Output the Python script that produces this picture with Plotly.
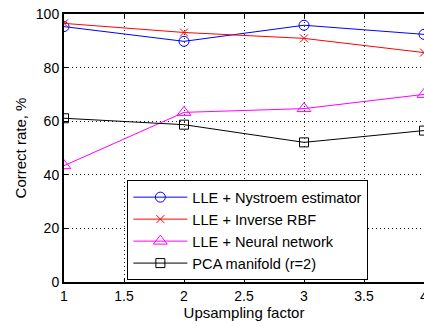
import plotly.graph_objects as go

x_vals = [1, 2, 3, 4]
nystroem = [95.3, 89.8, 95.8, 92.4]
inverse_rbf = [96.5, 93.1, 90.9, 85.6]
neural_net = [43.4, 63.3, 64.7, 70.0]
pca_manifold = [61.1, 58.7, 52.1, 56.5]

x_ticks = [1, 1.5, 2, 2.5, 3, 3.5, 4]
x_tick_labels = ["1", "1.5", "2", "2.5", "3", "3.5", "4"]
y_ticks = [0, 20, 40, 60, 80, 100]

names = ["LLE + Nystroem estimator", "LLE + Inverse RBF", "LLE + Neural network", "PCA manifold (r=2)"]
series = [nystroem, inverse_rbf, neural_net, pca_manifold]
colors = ["#0000ff", "#ff0000", "#ff00ff", "#000000"]
symbols = ["circle-open", "x-thin-open", "triangle-up-open", "square-open"]
sizes = [10, 8, 12, 9]

fig = go.Figure()
for n, s, c, sym, sz in zip(names, series, colors, symbols, sizes):
    fig.add_trace(go.Scatter(
        x=x_vals, y=s, name=n, mode="lines+markers",
        line=dict(color=c, width=1),
        marker=dict(symbol=sym, size=sz, color=c, line=dict(color=c, width=1)),
    ))

FONT = "Liberation Sans, Arial"
axis_common = dict(
    showline=True, linecolor="black", linewidth=2,
    ticks="inside", ticklen=4, tickcolor="black", tickwidth=1,
    showgrid=True, gridcolor="#222222", griddash="1px,3px", gridwidth=1,
    zeroline=False, ticklabeloverflow="allow",
    tickfont=dict(family=FONT, size=14, color="black"),
    title_font=dict(family=FONT, size=15, color="black"),
)

fig.update_xaxes(range=[1, 4], tickvals=x_ticks, ticktext=x_tick_labels,
                 title_text="Upsampling factor", title_standoff=3,
                 mirror="ticks", automargin=False, **axis_common)
fig.update_yaxes(range=[0, 100], tickvals=y_ticks,
                 title_text="Correct rate, %", title_standoff=6,
                 automargin=False, **axis_common)

fig.update_layout(
    width=424, height=326,
    margin=dict(l=64, r=0, t=14, b=44),
    paper_bgcolor="white", plot_bgcolor="white",
    showlegend=True,
    legend=dict(
        x=0.176, y=0.38, xanchor="left", yanchor="top",
        bgcolor="white", bordercolor="black", borderwidth=1,
        font=dict(family=FONT, size=14.6, color="black"),
        itemwidth=54, traceorder="normal",
    ),
)

fig.write_html(
    "out.html",
    config={"displayModeBar": False},
    post_script="document.body.style.margin='0';document.body.style.overflow='hidden';",
)
